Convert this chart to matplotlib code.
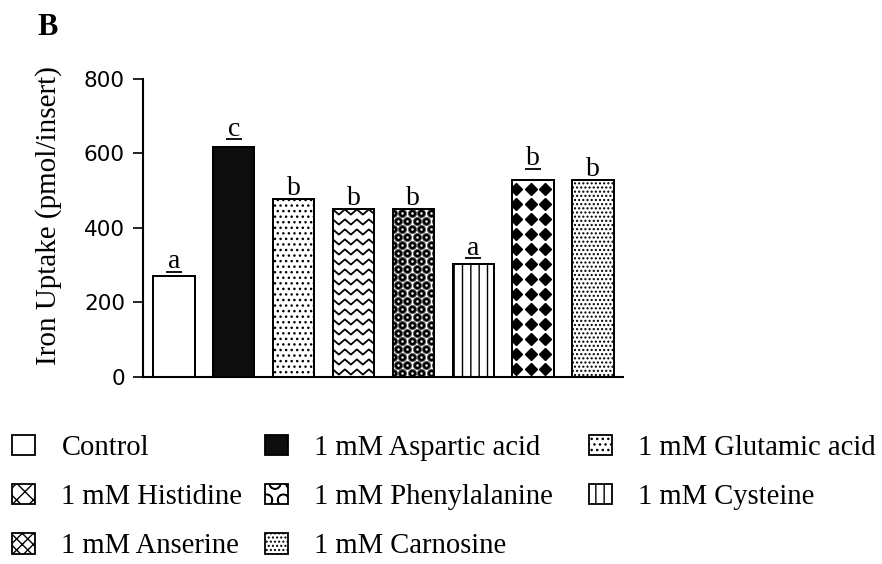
import numpy as np
import matplotlib
matplotlib.use("Agg")
import matplotlib.pyplot as plt
from matplotlib.patches import Patch

# ______________________________ Data ______________________________
treatments = ["Control", "1 mM Aspartic acid", "1 mM Glutamic acid",
              "1 mM Histidine", "1 mM Phenylalanine", "1 mM Cysteine",
              "1 mM Anserine", "1 mM Carnosine"]
uptake = [271, 617, 478, 451, 451, 303, 529, 529]      # pmol/insert
sem = [11, 21, 0, 0, 0, 16, 30, 0]
letters = ["a", "c", "b", "b", "b", "a", "b", "b"]
yticks = [0, 200, 400, 600, 800]

SERIF = "Liberation Serif"
plt.rcParams["hatch.linewidth"] = 1.0

# bar fill styles (face colour, matplotlib hatch, custom fill)
styles = [
    dict(face="white", hatch=None, custom=None),
    dict(face="#0d0d0d", hatch=None, custom=None),
    dict(face="white", hatch="...", custom=None),
    dict(face="white", hatch=None, custom="zigzag"),
    dict(face="white", hatch=None, custom="balls"),
    dict(face="white", hatch="||", custom=None),
    dict(face="white", hatch=None, custom="diamonds"),
    dict(face="white", hatch="....", custom=None),
]
# small legend icons only get a plain hatch
legend_hatch = [None, None, "...", "xx", "O", "||", "xxx", "...."]

# ______________________________ Figure ______________________________
fig = plt.figure(figsize=(8.82, 5.64), dpi=100)
ax = fig.add_axes([0.1621, 0.3316, 0.5442, 0.5284])

xpos = np.arange(len(treatments))
ax.set_xlim(-0.517, 7.5)
ax.set_ylim(0, 800)

bars = ax.bar(xpos, uptake, width=0.69,
              color=[s["face"] for s in styles],
              edgecolor="black", linewidth=1.4, zorder=2)
for b, s in zip(bars, styles):
    if s["hatch"]:
        b.set_hatch(s["hatch"])

# pixel -> data conversion for the hand-made fills
pw = ax.get_position().width * fig.get_figwidth() * fig.dpi
ph = ax.get_position().height * fig.get_figheight() * fig.dpi
dx = (ax.get_xlim()[1] - ax.get_xlim()[0]) / pw
dy = (ax.get_ylim()[1] - ax.get_ylim()[0]) / ph


def fill_custom(bar, kind):
    x0, w, h = bar.get_x(), bar.get_width(), bar.get_height()
    if kind == "zigzag":
        per, gap, amp = 12 * dx, 10 * dy, 2.6 * dy
        xs = np.arange(x0 - per, x0 + w + per, per / 2)
        wiggle = amp * np.where(np.arange(len(xs)) % 2 == 0, 1, -1)
        for base in np.arange(gap / 2, h + gap, gap):
            ln, = ax.plot(xs, base + wiggle, color="black", lw=1.3, zorder=2.5)
            ln.set_clip_path(bar)
    elif kind == "balls":
        sx, sy = 9.5 * dx, 8 * dy
        for i, yy in enumerate(np.arange(sy / 2, h + sy, sy)):
            xs = np.arange(x0 + (sx / 2 if i % 2 else 0), x0 + w + sx, sx)
            ln, = ax.plot(xs, np.full(len(xs), yy), ls="none", marker="o",
                          ms=5.8, mfc="black", mec="#555555", mew=0.6,
                          zorder=2.5)
            ln.set_clip_path(bar)
            hl, = ax.plot(xs, np.full(len(xs), yy), ls="none", marker="o",
                          ms=1.8, mfc="white", mec="none", zorder=2.6)
            hl.set_clip_path(bar)
    elif kind == "diamonds":
        sx, sy = 14.5 * dx, 15 * dy
        xs = np.arange(x0 + 4 * dx, x0 + w + sx, sx)
        for yy in np.arange(sy / 2, h + sy, sy):
            ln, = ax.plot(xs, np.full(len(xs), yy), ls="none", marker="D",
                          ms=6.5, mfc="black", mec="black", zorder=2.5)
            ln.set_clip_path(bar)


for b, s in zip(bars, styles):
    if s["custom"]:
        fill_custom(b, s["custom"])

# outlines on top of the fills
ax.bar(xpos, uptake, width=0.69, fill=False, edgecolor="black",
       linewidth=1.4, zorder=3)

# error caps (only the upper cap is visible)
for x, v, e in zip(xpos, uptake, sem):
    if e > 0:
        ax.errorbar(x, v, yerr=[[0], [e]], fmt="none", ecolor="black",
                    elinewidth=0, capsize=6, capthick=1.3, zorder=3)

# significance letters
for x, v, e, lt in zip(xpos, uptake, sem, letters):
    ax.annotate(lt, (x, v + e), xytext=(0, 2.5), textcoords="offset points",
                ha="center", va="baseline", fontsize=20, family=SERIF)

# axes styling
ax.spines["top"].set_visible(False)
ax.spines["right"].set_visible(False)
ax.spines["left"].set_linewidth(1.5)
ax.spines["bottom"].set_linewidth(1.5)
ax.set_xticks([])
ax.set_yticks(yticks)
ax.tick_params(axis="y", direction="out", length=7, width=1.2, pad=6,
               labelsize=15.5)

ax.set_ylabel("Iron Uptake (pmol/insert)", fontsize=21, family=SERIF,
              va="center")
ax.yaxis.set_label_coords(-0.196, 0.54)

fig.text(37 / 882, 1 - 35 / 564, "B", fontsize=22, fontweight="bold",
         family=SERIF, va="baseline")

# ______________________________ Legend ______________________________
handles = [Patch(facecolor=s["face"], edgecolor="black", linewidth=1.3,
                 hatch=h) for s, h in zip(styles, legend_hatch)]

columns = [[0, 3, 6], [1, 4, 7], [2, 5]]
col_x = [12, 265, 589]
for idx, cx in zip(columns, col_x):
    fig.legend([handles[i] for i in idx], [treatments[i] for i in idx],
               loc="upper left", bbox_to_anchor=(cx / 882, 1 - 435 / 564),
               frameon=False, borderpad=0, borderaxespad=0,
               handlelength=0.8, handleheight=0.72, handletextpad=0.93,
               labelspacing=0.8, prop=dict(family=SERIF, size=20.6))

fig.savefig("out.png", dpi=100)
